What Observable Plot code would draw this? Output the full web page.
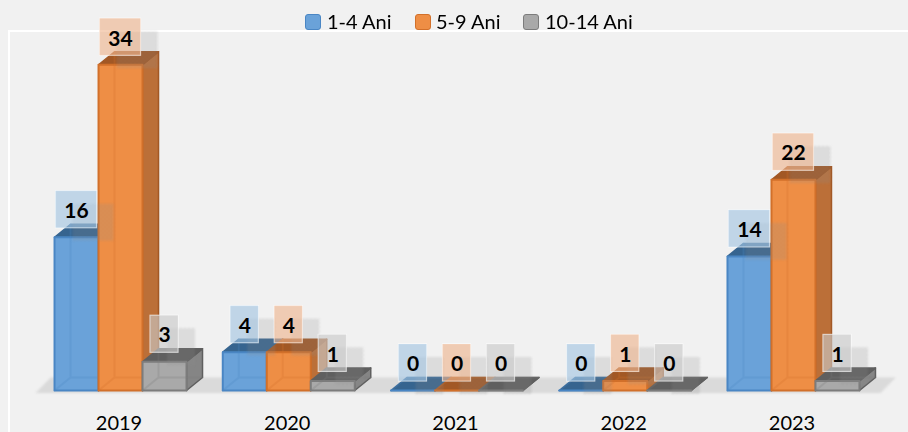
<!DOCTYPE html>
<html>
<head>
<meta charset="utf-8">
<script src="https://cdn.jsdelivr.net/npm/d3@7"></script>
<script src="https://cdn.jsdelivr.net/npm/@observablehq/plot@0.6"></script>
<style>
html,body{margin:0;padding:0;background:#f1f1f1;width:908px;height:432px;overflow:hidden;font-family:Lato,sans-serif;}
#wrap{position:relative;width:908px;height:432px;}
#frame{position:absolute;left:8px;top:30px;right:-10px;bottom:-10px;border:2px solid #fff;}
#legend{position:absolute;left:0;top:0;height:36px;width:908px;font-size:20px;color:#000;}
#legend span.t{position:absolute;top:9px;line-height:24px;white-space:nowrap;filter:blur(.3px);}
#legend span.s{position:absolute;top:14px;width:14px;height:14px;border:1.5px solid;border-radius:3px;filter:blur(.7px);}
svg{position:absolute;left:0;top:0;}
</style>
</head>
<body>
<div id="wrap"><div id="frame"></div><div id="chart"></div><div id="legend"></div></div>
<script>
const years = ["2019","2020","2021","2022","2023"];
const seriesNames = ["1-4 Ani","5-9 Ani","10-14 Ani"];
const ages1to4 = [16,4,0,0,14];
const ages5to9 = [34,4,0,1,22];
const ages10to14 = [3,1,0,0,1];
const seriesValues = [ages1to4,ages5to9,ages10to14];
const palette = [
  {front:"#6aa2d9",edge:"#4a86c4",side:"#4d86bf",top:"#36648f",box:"#5b9bd5"},
  {front:"#ee8e45",edge:"#d2702a",side:"#bb6f38",top:"#a25825",box:"#ed7d31"},
  {front:"#a9a9a9",edge:"#7c7c7c",side:"#858585",top:"#5f5f5f",box:"#a5a5a5"}
];
const pxX = 168.25, pxY = 9.58;
const barW = 44/pxX, depthX = 16/pxX, depthY = 13/pxY;
const start = -66.5/pxX;
const bars = [];
seriesValues.forEach((vals,s)=>vals.forEach((v,g)=>{
  bars.push({s,g,v,x0:g+start+s*barW,x1:g+start+(s+1)*barW,name:seriesNames[s],year:years[g]});
}));
function polys(face,s){
  const out=[];
  bars.filter(b=>b.s===s).forEach(b=>{
    const id=b.g, {x0,x1,v}=b, X=depthX, Y=depthY;
    const pts = face==="front"?[[x0,0],[x1,0],[x1,v],[x0,v],[x0,0]]
      : face==="side"?[[x1,0],[x1+X,Y],[x1+X,v+Y],[x1,v],[x1,0]]
      : face==="top"?[[x0,v],[x1,v],[x1+X,v+Y],[x0+X,v+Y],[x0,v]]
      : [[x0,0],[x0+X,Y],[x0+X,v+Y],[x0+X,Y],[x1+X,Y]];
    pts.forEach(p=>out.push({id,x:p[0],y:p[1]}));
  });
  return out;
}
const marks=[];
const floor=[[-0.508,-0.25],[-0.418,1.36],[4.605,1.36],[4.515,-0.25],[-0.508,-0.25]].map(p=>({x:p[0],y:p[1]}));
marks.push(Plot.line(floor,{x:"x",y:"y",fill:"#dadada",stroke:"none",imageFilter:"blur(1px)"}));
[0,1,2].forEach(s=>{
  const c=palette[s];
  const opt={x:"x",y:"y",z:"id",imageFilter:"blur(0.7px)"};
  marks.push(Plot.line(polys("side",s),{...opt,fill:c.side,stroke:c.top,strokeWidth:1.5}));
  marks.push(Plot.line(polys("top",s),{...opt,fill:c.top,stroke:c.top,strokeWidth:1.5}));
  marks.push(Plot.line(polys("front",s),{...opt,fill:c.front,stroke:c.edge,strokeWidth:2}));
  marks.push(Plot.line(polys("inner",s),{...opt,fill:"none",stroke:c.edge,strokeWidth:2,strokeOpacity:.25}));
});
const boxH=37/pxY, lift=27.5/pxY;
const boxW=d=>(String(d.v).length>1?41:28)/pxX;
const cx=d=>(d.x0+d.x1)/2;
marks.push(Plot.rect(bars,{
  x1:d=>cx(d)-boxW(d)/2+17/pxX,x2:d=>cx(d)+boxW(d)/2+17/pxX,
  y1:d=>d.v+lift-boxH/2-13/pxY,y2:d=>d.v+lift+boxH/2-13/pxY,
  fill:"url(#dither)",imageFilter:"blur(0.8px)"}));
[0,1,2].forEach(s=>{
  marks.push(Plot.rect(bars.filter(b=>b.s===s),{
    x1:d=>cx(d)-boxW(d)/2,x2:d=>cx(d)+boxW(d)/2,
    y1:d=>d.v+lift-boxH/2,y2:d=>d.v+lift+boxH/2,
    fill:"#f2f2f2",fillOpacity:.45,stroke:"#fff",strokeOpacity:.7,strokeWidth:1.2}));
  marks.push(Plot.rect(bars.filter(b=>b.s===s),{
    x1:d=>cx(d)-boxW(d)/2,x2:d=>cx(d)+boxW(d)/2,
    y1:d=>d.v+lift-boxH/2,y2:d=>d.v+lift+boxH/2,
    fill:palette[s].box,fillOpacity:.32}));
});
marks.push(Plot.text(bars,{x:cx,y:d=>d.v+lift,text:d=>String(d.v),dy:1.5,fontSize:21,fontWeight:"bold",fontFamily:"Lato",fill:"#000"}));
marks.push(Plot.axisX({ticks:[0,1,2,3,4],tickFormat:i=>years[i],tickSize:0,tickPadding:25,fontSize:20,fontFamily:"Lato",dx:-2,fill:"#000",anchor:"bottom",label:null}));
const chart=Plot.plot({
  width:908,height:432,marginTop:0,marginRight:0,marginBottom:42,marginLeft:0,
  style:{background:"transparent",overflow:"visible",fontFamily:"Lato"},
  x:{domain:[-0.5,4.5],range:[36.4,877.6]},
  y:{domain:[0,36],range:[390,390-36*pxY],axis:null},
  marks
});
const ns="http://www.w3.org/2000/svg";
const defs=document.createElementNS(ns,"defs");
defs.innerHTML='<pattern id="dither" width="4" height="4" patternUnits="userSpaceOnUse"><rect width="4" height="4" fill="#999" fill-opacity=".1"/><rect width="2" height="2" fill="#888" fill-opacity=".24"/><rect x="2" y="2" width="2" height="2" fill="#888" fill-opacity=".24"/></pattern>';
chart.insertBefore(defs,chart.firstChild);
document.getElementById("chart").appendChild(chart);
const leg=document.getElementById("legend");
const swatchX=[305,415,523], textX=[327,436,545];
seriesNames.forEach((n,i)=>{
  const s=document.createElement("span");s.className="s";s.style.left=swatchX[i]+"px";
  s.style.background=palette[i].front;s.style.borderColor=palette[i].edge;leg.appendChild(s);
  const t=document.createElement("span");t.className="t";t.style.left=textX[i]+"px";t.textContent=n;leg.appendChild(t);
});
</script>
</body>
</html>
